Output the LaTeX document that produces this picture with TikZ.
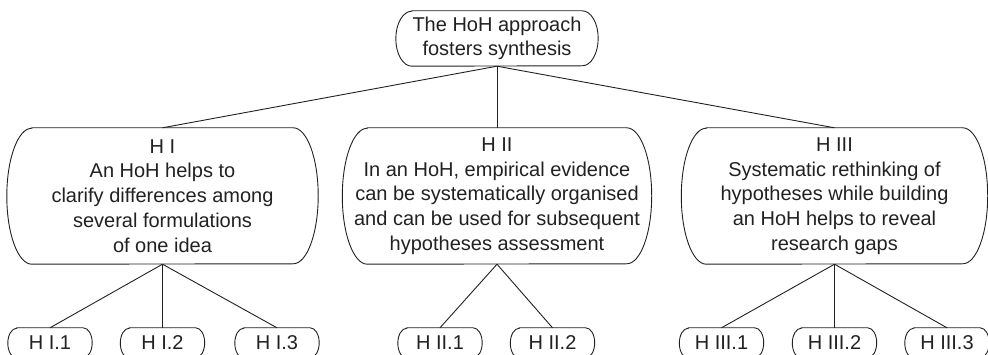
\documentclass[tikz,border=0pt]{standalone}
\usepackage{fontspec}
\setmainfont{Liberation Sans}
\definecolor{ink}{gray}{0.13}
\tikzset{
  every node/.style={inner sep=0pt, text=ink},
  boxtext/.style={align=center, font=\fontsize{20}{24.8}\selectfont},
  rootbox/.style={boxtext, minimum width=202, minimum height=55},
  midbox/.style={boxtext, minimum height=136},
  leafbox/.style={boxtext, minimum width=84, minimum height=30},
  edge/.style={draw=ink, line width=0.9pt},
}
\newcommand\pilloutline[3]{%
  \draw[edge] ([xshift=#2]#1.north west) -- ([xshift=-#2]#1.north east)
    arc[start angle=90, end angle=-90, x radius=#2, y radius=#3]
    -- ([xshift=#2]#1.south west)
    arc[start angle=270, end angle=90, x radius=#2, y radius=#3] -- cycle;}
\begin{document}
\begin{tikzpicture}[x=1pt,y=1pt]
\useasboundingbox (0,0) rectangle (988,-355);
\clip (0,0) rectangle (988,-355);
% root
\node[rootbox] (root) at (497,-38.5) {\raisebox{2pt}{\begin{tabular}{@{}c@{}}The HoH approach\\[-1.5pt]fosters synthesis\end{tabular}}};
% level 1
\node[midbox, minimum width=311] (h1) at (162.5,-196) {H I\\An HoH helps to\\clarify differences among\\several formulations\\of one idea};
\node[midbox, minimum width=309] (h2) at (497,-196) {H II\\In an HoH, empirical evidence\\can be systematically organised\\and can be used for subsequent\\hypotheses assessment};
\node[midbox, minimum width=306] (h3) at (834.5,-196) {H III\\Systematic rethinking of\\hypotheses while building\\an HoH helps to reveal\\research gaps};
% leaves
\node[leafbox] (h11) at (50,-343) {H I.1};
\node[leafbox] (h12) at (162.5,-343) {H I.2};
\node[leafbox] (h13) at (277,-343) {H I.3};
\node[leafbox] (h21) at (440,-343) {H II.1};
\node[leafbox] (h22) at (552.5,-343) {H II.2};
\node[leafbox] (h31) at (721.5,-343) {H III.1};
\node[leafbox] (h32) at (834.5,-343) {H III.2};
\node[leafbox] (h33) at (947,-343) {H III.3};
% outlines
\pilloutline{root}{16}{27.5}
\foreach \n in {h1,h2,h3} {\pilloutline{\n}{25}{68}}
\foreach \n in {h11,h12,h13,h21,h22,h31,h32,h33} {\pilloutline{\n}{9}{15}}
% connectors
\foreach \n in {h1,h2,h3} {\draw[edge] (root.south) -- (\n.north);}
\foreach \n in {h11,h12,h13} {\draw[edge] (h1.south) -- (\n.north);}
\foreach \n in {h21,h22} {\draw[edge] (h2.south) -- (\n.north);}
\foreach \n in {h31,h32,h33} {\draw[edge] (h3.south) -- (\n.north);}
\end{tikzpicture}
\end{document}
